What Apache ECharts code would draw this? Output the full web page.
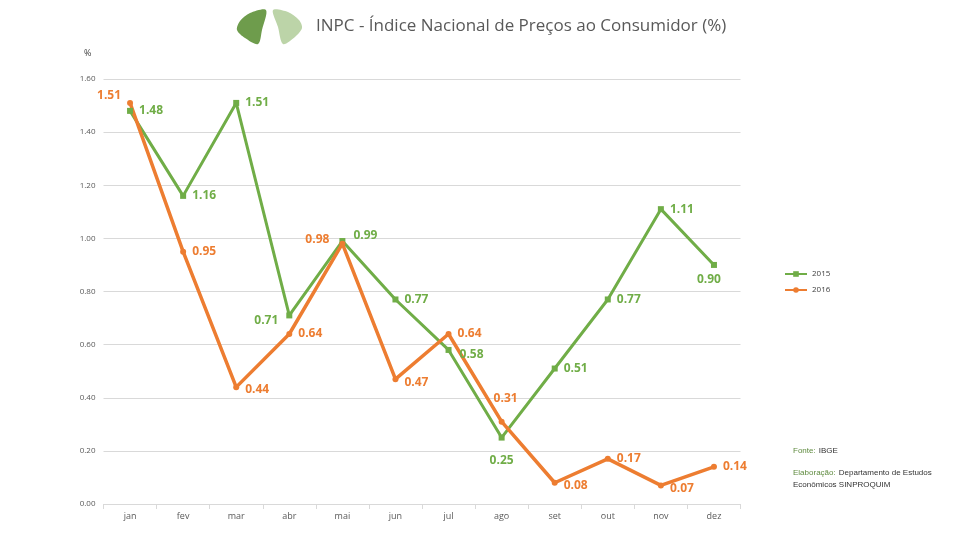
<!DOCTYPE html>
<html>
<head>
<meta charset="utf-8">
<script src="https://cdn.jsdelivr.net/npm/echarts@6/dist/echarts.min.js"></script>
<style>html,body{margin:0;padding:0;background:#fff}#c{width:960px;height:540px}</style>
</head>
<body>
<div id="c"></div>
<script>
const months = ['jan','fev','mar','abr','mai','jun','jul','ago','set','out','nov','dez'];
const values2015 = [1.48,1.16,1.51,0.71,0.99,0.77,0.58,0.25,0.51,0.77,1.11,0.90];
const values2016 = [1.51,0.95,0.44,0.64,0.98,0.47,0.64,0.31,0.08,0.17,0.07,0.14];
const yTicks = [0,0.2,0.4,0.6,0.8,1.0,1.2,1.4,1.6];

// label placement (style only)
const place2015 = ['right','right','right','left','right','right','right','bottom','right','right','right','bottom'];
const off2015 = [[0,0],[0,0],[0,0],[-2,5],[2,-5],[0,0],[2,5],[0,8],[0,0],[0,0],[0,0],[-5,0]];
const place2016 = ['left','right','right','right','left','right','right','top','right','right','right','right'];
const off2016 = [[0,-7],[0,0],[0,2],[0,0],[-4,-4],[0,3],[0,0],[4,-8],[0,3],[0,0],[0,3],[0,0]];

const green = '#70AD47', orange = '#ED7D31';
function build(vals, places, offs) {
  return vals.map((v, i) => ({
    value: v,
    label: { position: places[i], offset: offs[i] }
  }));
}

const chart = echarts.init(document.getElementById('c'));
chart.setOption({
  animation: false,
  textStyle: { fontFamily: 'Open Sans, sans-serif' },
  title: {
    text: 'INPC - Índice Nacional de Preços ao Consumidor (%)',
    left: 311, top: 13,
    textStyle: { fontSize: 17, fontWeight: 'normal', color: '#595959', fontFamily: 'Open Sans' }
  },
  legend: {
    orient: 'vertical', left: 779, top: 265, itemWidth: 22, itemHeight: 7, itemGap: 8,
    textStyle: { fontSize: 8, color: '#404040' },
    data: ['2015','2016']
  },
  grid: { left: 103.5, right: 219.5, top: 79, bottom: 36 },
  xAxis: {
    type: 'category', data: months, boundaryGap: true,
    axisLine: { lineStyle: { color: '#d9d9d9' } },
    axisTick: { show: true, length: 5, lineStyle: { color: '#d9d9d9' } },
    axisLabel: { fontSize: 9, color: '#595959', margin: 8 }
  },
  yAxis: {
    type: 'value', min: yTicks[0], max: yTicks[yTicks.length-1], interval: 0.2,
    axisLine: { show: false }, axisTick: { show: false },
    splitLine: { lineStyle: { color: '#d9d9d9' } },
    axisLabel: { fontSize: 8, color: '#595959', margin: 8, formatter: v => v.toFixed(2) }
  },
  graphic: [
    { type: 'polygon', shape: { points: [[266,10],[250,13],[240,21],[237,30],[245,38],[258,44],[262,30]], smooth: 0.3 }, style: { fill: '#6E9C4C' } },
    { type: 'polygon', shape: { points: [[273,10],[288,12],[299,20],[302,28],[295,37],[283,44],[278,27]], smooth: 0.3 }, style: { fill: '#BCD4A8' } },
    { type: 'text', left: 84, top: 49, style: { text: '%', fontSize: 9, fill: '#404040', fontFamily: 'Open Sans' } },
    { type: 'text', left: 793, top: 445, style: { rich: { g: { fill: '#5E8A3E', fontSize: 8 }, k: { fill: '#333', fontSize: 8 } }, text: '{g|Fonte:} {k|IBGE}', fontFamily: 'Open Sans' } },
    { type: 'text', left: 793, top: 467, style: { rich: { g: { fill: '#5E8A3E', fontSize: 8, lineHeight: 12 }, k: { fill: '#333', fontSize: 8, lineHeight: 12 } }, text: '{g|Elaboração:} {k|Departamento de Estudos}\n{k|Econômicos SINPROQUIM}', fontFamily: 'Open Sans' } }
  ],
  series: [
    {
      name: '2015', type: 'line', data: build(values2015, place2015, off2015),
      symbol: 'rect', symbolSize: 6, showAllSymbol: true,
      lineStyle: { color: green, width: 3 }, itemStyle: { color: green },
      label: { show: true, color: green, fontSize: 12, fontWeight: 'bold', distance: 6, formatter: p => p.value.toFixed(2) }
    },
    {
      name: '2016', type: 'line', data: build(values2016, place2016, off2016),
      symbol: 'circle', symbolSize: 6, showAllSymbol: true,
      lineStyle: { color: orange, width: 3.5 }, itemStyle: { color: orange },
      label: { show: true, color: orange, fontSize: 12, fontWeight: 'bold', distance: 6, formatter: p => p.value.toFixed(2) }
    }
  ]
});
</script>
</body>
</html>
